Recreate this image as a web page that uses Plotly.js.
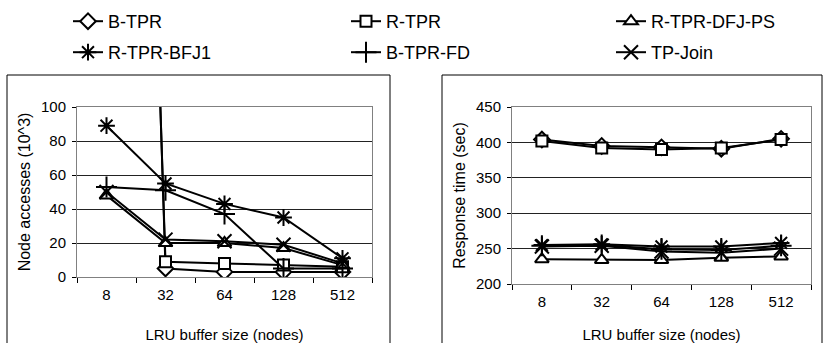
<!DOCTYPE html>
<html><head><meta charset="utf-8">
<script src="https://cdn.plot.ly/plotly-3.0.1.min.js"></script>
<style>html,body{margin:0;padding:0;background:#fff}#chart{width:823px;height:343px}</style>
</head><body><div id="chart"></div>
<script>
// ---- data ----
const bufferSizes = ['8', '32', '64', '128', '512'];
const seriesNames = ['B-TPR', 'R-TPR', 'R-TPR-DFJ-PS', 'R-TPR-BFJ1', 'B-TPR-FD', 'TP-Join'];
// Node accesses (10^3)
const nodeBTPR      = [1100, 5, 3, 3, 3];
const nodeRTPR      = [1050, 9, 8, 7, 6];
const nodeRTPRDFJPS = [48, 20, 20, 17, 7];
const nodeRTPRBFJ1  = [89, 55, 43, 35, 11];
const nodeBTPRFD    = [53, 51, 37, 5, 5];
const nodeTPJoin    = [50, 22, 21, 19, 8];
// Response time (sec)
const timeBTPR      = [404, 395, 393, 391, 405];
const timeRTPR      = [402, 392, 390, 392, 404];
const timeRTPRDFJPS = [235, 234, 234, 237, 239];
const timeRTPRBFJ1  = [255, 256, 253, 253, 258];
const timeBTPRFD    = [254, 255, 249, 248, 254];
const timeTPJoin    = [253, 254, 246, 244, 250];

const nodeSeries = [nodeBTPR, nodeRTPR, nodeRTPRDFJPS, nodeRTPRBFJ1, nodeBTPRFD, nodeTPJoin];
const timeSeries = [timeBTPR, timeRTPR, timeRTPRDFJPS, timeRTPRBFJ1, timeBTPRFD, timeTPJoin];
const symbols = ['diamond', 'square', 'triangle-up', 'asterisk', 'cross-thin', 'x-thin'];
const symSizes = [12, 11, 12, 14, 15, 14];

// ---- layout helpers ----
const W = 823, H = 343;
const px = x => x / W;
const py = y => 1 - y / H;
const FONT = 'Arial, "Liberation Sans", sans-serif';
const legendIds = ['legend', 'legend2', 'legend3', 'legend4', 'legend5', 'legend6'];

function mk(ys, i, xa, ya, showLeg) {
  const thin = i >= 3;
  return {
    type: 'scatter', mode: 'lines+markers',
    x: bufferSizes, y: ys, name: seriesNames[i],
    xaxis: xa, yaxis: ya,
    showlegend: showLeg,
    legend: legendIds[i],
    line: {color: '#000', width: 2},
    marker: {
      symbol: symbols[i], size: symSizes[i],
      color: thin ? '#000' : '#fff',
      line: {color: '#000', width: 2}
    },
    cliponaxis: true
  };
}

const traces = [];
nodeSeries.forEach((s, i) => traces.push(mk(s, i, 'x', 'y', true)));
timeSeries.forEach((s, i) => traces.push(mk(s, i, 'x2', 'y2', false)));

const axFont = {family: FONT, size: 15, color: '#000'};
function xAxis(domain, standoff) {
  return {
    domain: domain, type: 'category', range: [-0.5, 4.5],
    showgrid: false, zeroline: false,
    showline: true, linecolor: '#808080', linewidth: 1, mirror: true,
    ticks: 'outside', tickson: 'boundaries', ticklen: 5, tickcolor: '#000',
    tickfont: axFont, ticklabelstandoff: 4,
    title: {text: 'LRU buffer size (nodes)', font: axFont, standoff: standoff},
    fixedrange: true
  };
}
function yAxis(domain, range, dtick, title, anchor) {
  return {
    domain: domain, range: range, dtick: dtick, anchor: anchor,
    showgrid: true, gridcolor: '#222', gridwidth: 1, zeroline: false,
    showline: true, linecolor: '#808080', linewidth: 1, mirror: true,
    ticks: 'outside', ticklen: 4, tickcolor: '#000',
    tickfont: axFont, ticklabelstandoff: 3,
    title: {text: title, font: {family: FONT, size: 16, color: '#000'}, standoff: 6},
    fixedrange: true
  };
}

const legFont = {family: FONT, size: 18, color: '#000'};
const legPos = [[68, 3], [346, 3], [611, 3], [68, 34], [346, 34], [611, 34]];

const layout = {
  width: W, height: H,
  margin: {l: 0, r: 0, t: 0, b: 0},
  paper_bgcolor: '#fff', plot_bgcolor: '#fff',
  font: {family: FONT, color: '#000'},
  xaxis: Object.assign(xAxis([px(77), px(372)], 32), {anchor: 'y'}),
  yaxis: yAxis([py(277), py(107)], [0, 100], 20, 'Node accesses (10^3)', 'x'),
  xaxis2: Object.assign(xAxis([px(512), px(811)], 33), {anchor: 'y2'}),
  yaxis2: yAxis([py(284), py(107)], [200, 450], 50, 'Response time (sec)', 'x2'),
  shapes: [
    {type: 'rect', xref: 'paper', yref: 'paper', x0: px(7), x1: px(390), y0: -0.05, y1: py(75),
     line: {color: '#000', width: 1}, layer: 'below'},
    {type: 'rect', xref: 'paper', yref: 'paper', x0: px(442), x1: px(822), y0: -0.05, y1: py(75),
     line: {color: '#000', width: 1}, layer: 'below'}
  ]
};
legendIds.forEach((id, i) => {
  layout[id] = {
    orientation: 'h', x: px(legPos[i][0]), y: py(legPos[i][1]),
    xanchor: 'left', yanchor: 'top',
    font: legFont, bgcolor: 'rgba(0,0,0,0)', borderwidth: 0, itemclick: false
  };
});

Plotly.newPlot('chart', traces, layout, {displayModeBar: false, staticPlot: true});
</script>
</body></html>
